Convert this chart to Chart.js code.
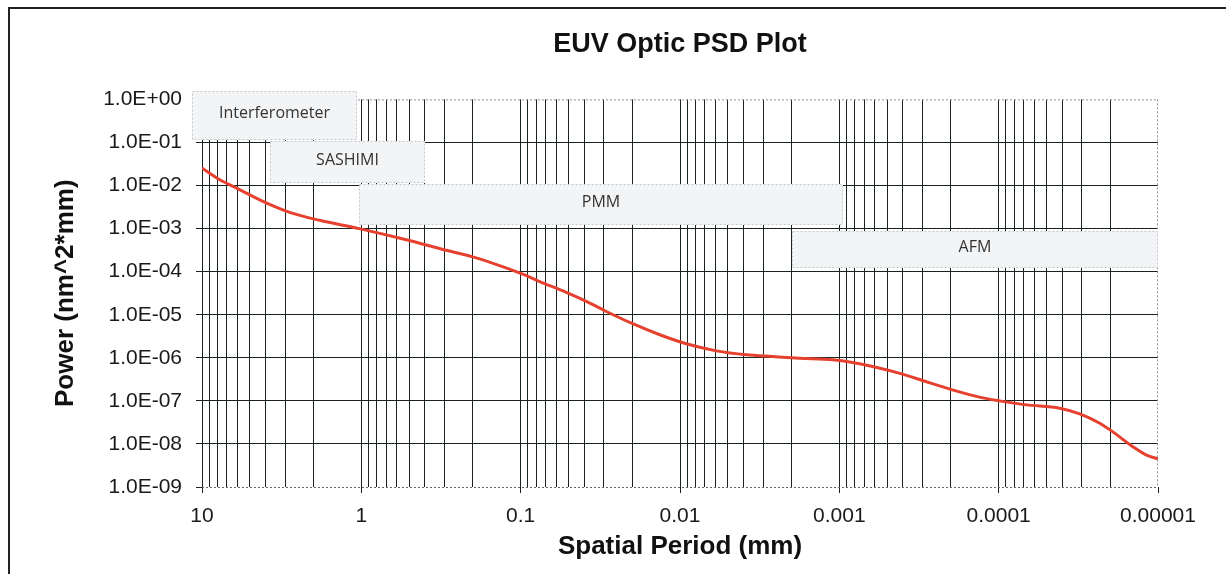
<!DOCTYPE html>
<html>
<head>
<meta charset="utf-8">
<title>EUV Optic PSD Plot</title>
<script src="https://cdn.jsdelivr.net/npm/chart.js@4.4.1/dist/chart.umd.min.js"></script>
<style>
    html, body { margin: 0; padding: 0; background: #fff; }
    #frame { position: absolute; left: 8px; top: 7px; width: 1230px; height: 600px;
             border-top: 2px solid #222; border-left: 2px solid #222; }
    #psdChart { position: absolute; left: 0; top: 0; }
</style>
</head>
<body>
<div id="frame"></div>
<canvas id="psdChart" width="1226" height="574"></canvas>
<script>
// Spatial period (mm) and PSD power
var periodMm = [10, 7.77, 5.82, 3.95, 2.82, 1.83, 1.03, 0.522, 0.293, 0.2, 0.1356, 0.099,
    0.076, 0.0517, 0.0387, 0.029, 0.0198, 0.0134, 0.00913, 0.00591, 0.00383, 0.00262,
    0.00177, 0.0011, 0.000826, 0.000618, 0.000401, 0.0003, 0.000195, 0.000132, 0.0000986,
    0.000067, 0.0000414, 0.000031, 0.0000232, 0.0000193, 0.0000144, 0.0000118, 0.00001];
var powerValues = [0.0255, 0.0138, 0.00807, 0.00396, 0.00239, 0.00156, 0.001, 0.00055,
    0.000313, 0.00022, 0.000138, 0.00009, 0.000059, 0.000033, 0.0000204, 0.0000119,
    6.18e-6, 3.43e-6, 2.12e-6, 1.45e-6, 1.17e-6, 1.07e-6, 9.8e-7, 8.98e-7, 7.78e-7, 6.28e-7,
    4.18e-7, 2.97e-7, 1.8e-7, 1.22e-7, 1.0e-7, 8.07e-8, 6.76e-8, 4.99e-8, 3.03e-8, 1.93e-8,
    8.65e-9, 5.5e-9, 4.5e-9];

// Axis ticks
var xTickValues = [10, 1, 0.1, 0.01, 0.001, 0.0001, 0.00001];
var xTickLabels = ['10', '1', '0.1', '0.01', '0.001', '0.0001', '0.00001'];
var yTickValues = [1, 0.1, 0.01, 0.001, 0.0001, 0.00001, 1e-6, 1e-7, 1e-8, 1e-9];
var yTickLabels = ['1.0E+00', '1.0E-01', '1.0E-02', '1.0E-03', '1.0E-04', '1.0E-05',
    '1.0E-06', '1.0E-07', '1.0E-08', '1.0E-09'];

// Instrument ranges (period from/to, power top/bottom)
var boxLabels = ['Interferometer', 'SASHIMI', 'PMM', 'AFM'];
var boxPeriodFrom = [11.6, 3.77, 1.03, 0.00197];
var boxPeriodTo = [1.07, 0.40, 0.00095, 0.00001];
var boxPowerTop = [1.53, 0.107, 0.0111, 0.000898];
var boxPowerBottom = [0.117, 0.0116, 0.00124, 0.000124];

var periodMax = xTickValues[0];
var periodMin = xTickValues[xTickValues.length - 1];
var powerMax = yTickValues[0];
var powerMin = yTickValues[yTickValues.length - 1];

var gridColor = '#1a2321';
var fontFamily = "'Liberation Sans', Arial, sans-serif";

function findTick(values, v) {
    for (var i = 0; i < values.length; i++) {
        if (Math.abs(values[i] - v) / values[i] < 1e-6) return i;
    }
    return -1;
}

// Dotted plot-area edges and instrument boxes, drawn over the grid, under the curve
var regionBoxes = {
    id: 'regionBoxes',
    beforeDatasetsDraw: function(chart) {
        var ctx = chart.ctx;
        var xs = chart.scales.x, ys = chart.scales.y, area = chart.chartArea;
        ctx.save();
        ctx.lineWidth = 1;
        ctx.setLineDash([2, 2]);
        ctx.strokeStyle = '#8d939c';
        ctx.beginPath();
        ctx.moveTo(area.left, area.top + 0.5);
        ctx.lineTo(area.right, area.top + 0.5);
        ctx.moveTo(area.right - 0.5, area.top);
        ctx.lineTo(area.right - 0.5, area.bottom);
        ctx.stroke();
        ctx.strokeStyle = '#60656b';
        ctx.beginPath();
        ctx.moveTo(area.left, area.bottom + 0.5);
        ctx.lineTo(area.right, area.bottom + 0.5);
        ctx.stroke();

        ctx.font = "16px 'Open Sans', sans-serif";
        ctx.textAlign = 'center';
        ctx.textBaseline = 'middle';
        for (var i = 0; i < boxLabels.length; i++) {
            var x1 = Math.round(xs.getPixelForValue(boxPeriodFrom[i]));
            var x2 = Math.round(xs.getPixelForValue(boxPeriodTo[i]));
            var y1 = Math.round(ys.getPixelForValue(boxPowerTop[i]));
            var y2 = Math.round(ys.getPixelForValue(boxPowerBottom[i]));
            ctx.fillStyle = '#f3f4f6';
            ctx.fillRect(x1, y1, x2 - x1, y2 - y1);
            ctx.strokeStyle = '#c4c8ce';
            ctx.strokeRect(x1 + 0.5, y1 + 0.5, x2 - x1 - 1, y2 - y1 - 1);
            ctx.fillStyle = '#333';
            ctx.fillText(boxLabels[i], (x1 + x2) / 2, (y1 + y2) / 2 - 2);
        }
        ctx.restore();
    }
};

var ctx = document.getElementById('psdChart').getContext('2d');
var chart = new Chart(ctx, {
    type: 'line',
    data: {
        datasets: [{
            label: 'PSD',
            data: periodMm.map(function(p, i) { return { x: p, y: powerValues[i] }; }),
            borderColor: '#e6412f',
            borderWidth: 3,
            pointRadius: 0,
            cubicInterpolationMode: 'monotone',
            fill: false
        }]
    },
    options: {
        responsive: false,
        animation: false,
        layout: { padding: { left: 0, right: 68, top: 0, bottom: 0 } },
        plugins: {
            legend: { display: false },
            tooltip: { enabled: false },
            title: {
                display: true,
                text: 'EUV Optic PSD Plot',
                fullSize: false,
                color: '#111',
                font: { family: fontFamily, size: 27, weight: 'bold' },
                padding: { top: 28, bottom: 39 }
            }
        },
        scales: {
            x: {
                type: 'logarithmic',
                reverse: true,
                min: periodMin,
                max: periodMax,
                afterBuildTicks: function(scale) {
                    var vals = [];
                    xTickValues.forEach(function(d) {
                        vals.push(d);
                        if (d > periodMin) {
                            for (var m = 2; m <= 9; m++) vals.push(m * d / 10);
                        }
                    });
                    scale.ticks = vals.map(function(v) { return { value: v }; });
                },
                afterFit: function(scale) {
                    scale.height = 87;
                    scale.paddingLeft = 0;
                    scale.paddingRight = 0;
                },
                grid: {
                    color: function(c) {
                        return c.tick && findTick([periodMin], c.tick.value) === 0 ? 'rgba(0,0,0,0)' : gridColor;
                    },
                    tickColor: function(c) {
                        return c.tick && findTick(xTickValues, c.tick.value) >= 0 ? gridColor : 'rgba(0,0,0,0)';
                    },
                    tickLength: 6,
                    lineWidth: 1
                },
                border: { display: false },
                ticks: {
                    autoSkip: false,
                    maxRotation: 0,
                    minRotation: 0,
                    padding: 11,
                    color: '#1a1a1a',
                    font: { family: fontFamily, size: 21 },
                    callback: function(value) {
                        var k = findTick(xTickValues, value);
                        return k >= 0 ? xTickLabels[k] : '';
                    }
                },
                title: {
                    display: true,
                    text: 'Spatial Period (mm)',
                    color: '#111',
                    font: { family: fontFamily, size: 26, weight: 'bold' },
                    padding: { top: 0, bottom: 12 }
                }
            },
            y: {
                type: 'logarithmic',
                min: powerMin,
                max: powerMax,
                afterBuildTicks: function(scale) {
                    scale.ticks = yTickValues.map(function(v) { return { value: v }; });
                },
                afterFit: function(scale) {
                    scale.width = 202;
                    scale.paddingTop = 0;
                    scale.paddingBottom = 0;
                },
                grid: {
                    color: function(c) {
                        if (!c.tick) return gridColor;
                        return findTick([powerMax, powerMin], c.tick.value) >= 0 ? 'rgba(0,0,0,0)' : gridColor;
                    },
                    tickColor: gridColor,
                    tickLength: 6,
                    lineWidth: 1
                },
                border: { display: true, color: gridColor, width: 1 },
                ticks: {
                    autoSkip: false,
                    padding: 14,
                    color: '#1a1a1a',
                    font: { family: fontFamily, size: 21 },
                    callback: function(value) {
                        var k = findTick(yTickValues, value);
                        return k >= 0 ? yTickLabels[k] : '';
                    }
                },
                title: {
                    display: true,
                    text: 'Power (nm^2*mm)',
                    color: '#111',
                    font: { family: fontFamily, size: 26, weight: 'bold' },
                    padding: { top: 50, bottom: 0 }
                }
            }
        }
    },
    plugins: [regionBoxes]
});
</script>
</body>
</html>
